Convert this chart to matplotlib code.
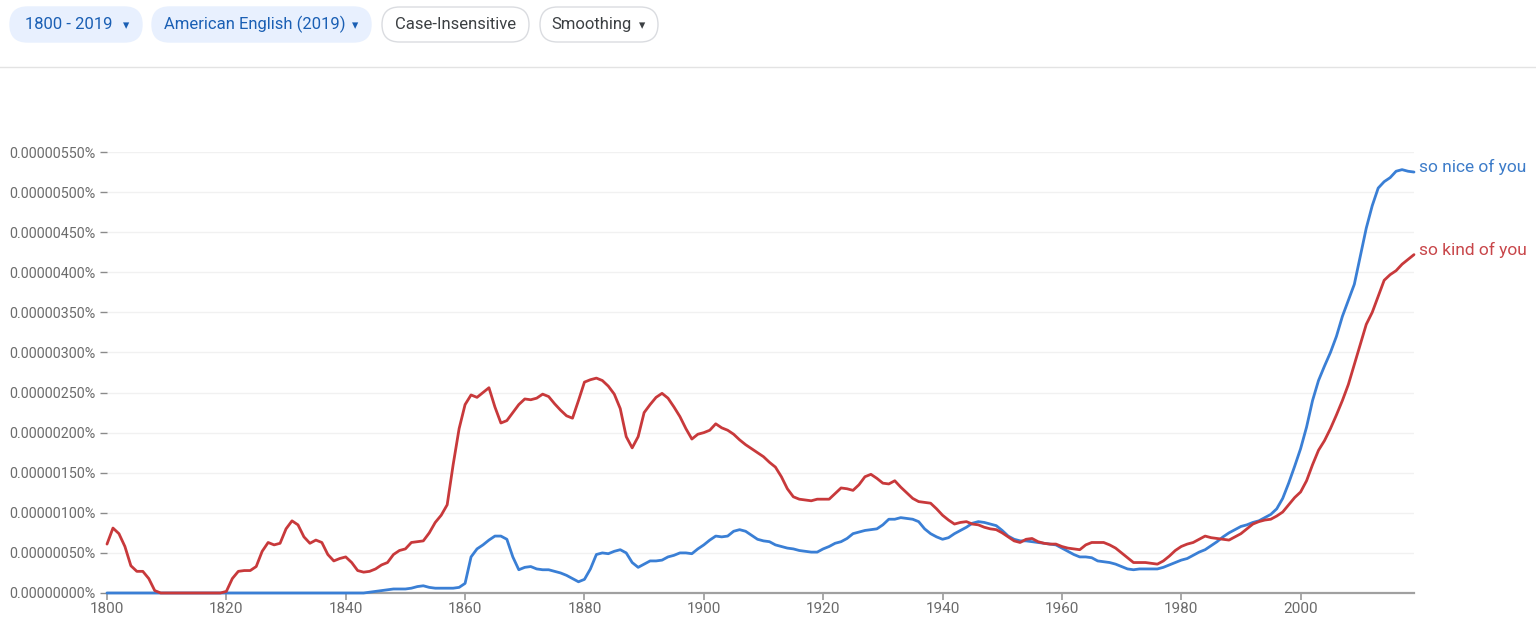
import numpy as np
import matplotlib
matplotlib.use("Agg")
import matplotlib.pyplot as plt
from matplotlib.patches import FancyBboxPatch

plt.rcParams['font.family'] = ['Roboto', 'DejaVu Sans']

# ---------------- data (values in units of 1e-8 %) ----------------
years = list(range(1800, 2020))

so_kind_of_you = [
    61, 81, 74, 58, 34, 27, 27, 18, 3, 0,                 # 1800-1809
    0, 0, 0, 0, 0, 0, 0, 0, 0, 0,                         # 1810-1819
    2, 18, 27, 28, 28, 33, 52, 63, 60, 62,                # 1820-1829
    80, 90, 85, 70, 62, 66, 63, 48, 40, 43,               # 1830-1839
    45, 38, 28, 26, 27, 30, 35, 38, 48, 53,               # 1840-1849
    55, 63, 64, 65, 75, 88, 97, 110, 160, 205,            # 1850-1859
    235, 247, 244, 250, 256, 232, 212, 215, 225, 235,     # 1860-1869
    242, 241, 243, 248, 245, 236, 228, 221, 218, 240,     # 1870-1879
    263, 266, 268, 265, 258, 248, 230, 195, 181, 195,     # 1880-1889
    225, 235, 244, 249, 243, 232, 220, 205, 192, 198,     # 1890-1899
    200, 203, 211, 206, 203, 198, 191, 185, 180, 175,     # 1900-1909
    170, 163, 157, 145, 130, 120, 117, 116, 115, 117,     # 1910-1919
    117, 117, 124, 131, 130, 128, 135, 145, 148, 143,     # 1920-1929
    137, 136, 140, 132, 125, 118, 114, 113, 112, 105,     # 1930-1939
    97, 91, 86, 88, 89, 86, 85, 82, 80, 79,               # 1940-1949
    75, 70, 65, 63, 67, 68, 64, 62, 61, 61,               # 1950-1959
    58, 56, 55, 54, 60, 63, 63, 63, 60, 56,               # 1960-1969
    50, 44, 38, 38, 38, 37, 36, 40, 46, 53,               # 1970-1979
    58, 61, 63, 67, 71, 69, 68, 67, 66, 70,               # 1980-1989
    74, 80, 86, 89, 91, 92, 96, 101, 110, 119,            # 1990-1999
    126, 140, 160, 178, 190, 205, 222, 240, 260, 285,     # 2000-2009
    310, 335, 350, 370, 390, 397, 402, 410, 416, 422,     # 2010-2019
]

so_nice_of_you = [
    0, 0, 0, 0, 0, 0, 0, 0, 0, 0,                         # 1800-1809
    0, 0, 0, 0, 0, 0, 0, 0, 0, 0,                         # 1810-1819
    0, 0, 0, 0, 0, 0, 0, 0, 0, 0,                         # 1820-1829
    0, 0, 0, 0, 0, 0, 0, 0, 0, 0,                         # 1830-1839
    0, 0, 0, 0, 1, 2, 3, 4, 5, 5,                         # 1840-1849
    5, 6, 8, 9, 7, 6, 6, 6, 6, 7,                         # 1850-1859
    12, 45, 55, 60, 66, 71, 71, 67, 45, 29,               # 1860-1869
    32, 33, 30, 29, 29, 27, 25, 22, 18, 14,               # 1870-1879
    17, 30, 48, 50, 49, 52, 54, 50, 38, 32,               # 1880-1889
    36, 40, 40, 41, 45, 47, 50, 50, 49, 55,               # 1890-1899
    60, 66, 71, 70, 71, 77, 79, 77, 72, 67,               # 1900-1909
    65, 64, 60, 58, 56, 55, 53, 52, 51, 51,               # 1910-1919
    55, 58, 62, 64, 68, 74, 76, 78, 79, 80,               # 1920-1929
    85, 92, 92, 94, 93, 92, 89, 80, 74, 70,               # 1930-1939
    67, 69, 74, 78, 82, 87, 89, 88, 86, 84,               # 1940-1949
    78, 71, 67, 65, 65, 64, 63, 62, 61, 60,               # 1950-1959
    56, 52, 48, 45, 45, 44, 40, 39, 38, 36,               # 1960-1969
    33, 30, 29, 30, 30, 30, 30, 32, 35, 38,               # 1970-1979
    41, 43, 47, 51, 54, 59, 64, 70, 75, 79,               # 1980-1989
    83, 85, 88, 90, 94, 98, 105, 118, 137, 158,           # 1990-1999
    180, 207, 240, 265, 283, 300, 320, 345, 365, 385,     # 2000-2009
    420, 455, 483, 505, 513, 518, 526, 528, 526, 525,     # 2010-2019
]

series_names = ["so nice of you", "so kind of you"]
y_ticks = list(range(0, 551, 50))
x_ticks = list(range(1800, 2001, 20))
buttons = ["1800 - 2019", "American English (2019)", "Case-Insensitive", "Smoothing"]

# ---------------- figure ----------------
W, H = 1536, 619
fig = plt.figure(figsize=(W / 100, H / 100), dpi=100)
fig.patch.set_facecolor("white")

# overlay axes in pixel coordinates for header UI
ov = fig.add_axes([0, 0, 1, 1])
ov.set_xlim(0, W)
ov.set_ylim(H, 0)
ov.axis("off")

blue_fill = "#e8f0fe"
blue_text = "#1a5fb4"
gray_text = "#3c4043"
btn_specs = [
    (10, 142, True, True),
    (152, 371, True, True),
    (382, 529, False, False),
    (540, 658, False, True),
]
for (x0, x1, filled, arrow), label in zip(btn_specs, buttons):
    y0, y1 = 7, 42
    hgt = y1 - y0
    patch = FancyBboxPatch((x0, y0), x1 - x0, hgt,
                           boxstyle=f"round,pad=0,rounding_size={hgt/2}",
                           facecolor=blue_fill if filled else "white",
                           edgecolor=blue_fill if filled else "#dadce0",
                           linewidth=1.0, transform=ov.transData, zorder=2)
    ov.add_patch(patch)
    col = blue_text if filled else gray_text
    if arrow:
        tx = (x0 + x1) / 2 - 7
        ov.text(tx, (y0 + y1) / 2, label, ha="center", va="center",
                fontsize=12, color=col, zorder=3)
        ov.text(x1 - 16, (y0 + y1) / 2 + 1, "\u25BE", ha="center", va="center",
                fontsize=9, color=col, family=["DejaVu Sans"], zorder=3)
    else:
        ov.text((x0 + x1) / 2, (y0 + y1) / 2, label, ha="center", va="center",
                fontsize=12, color=col, zorder=3)

ov.plot([0, W], [66.5, 66.5], color="#e3e3e3", linewidth=1.0, zorder=1)

# main chart axes
left_px, right_px, top_px, bottom_px = 107, 1414, 152, 593
ax = fig.add_axes([left_px / W, (H - bottom_px) / H,
                   (right_px - left_px) / W, (bottom_px - top_px) / H])
ax.set_facecolor("none")
ax.set_xlim(1800, 2019)
ax.set_ylim(0, 550)

blue = "#3a7fd5"
red = "#c8393b"
ax.plot(years, so_nice_of_you, color=blue, linewidth=2.0, solid_capstyle="round",
        solid_joinstyle="round", zorder=3, clip_on=False)
ax.plot(years, so_kind_of_you, color=red, linewidth=2.0, solid_capstyle="round",
        solid_joinstyle="round", zorder=4, clip_on=False)

for name, vals, col in [(series_names[0], so_nice_of_you, "#3d7cc9"),
                        (series_names[1], so_kind_of_you, "#c8464a")]:
    ax.annotate(name, xy=(years[-1], vals[-1]), xytext=(5, 5),
                textcoords="offset pixels", ha="left", va="center",
                fontsize=12.5, color=col, annotation_clip=False)

ax.set_yticks(y_ticks)
ax.set_yticklabels([f"{v/1e8:.8f}%" for v in y_ticks])
ax.set_xticks(x_ticks)
ax.set_xticklabels([str(x) for x in x_ticks])
ax.grid(axis="y", color="#f1f1f1", linewidth=1.0, zorder=0)
ax.set_axisbelow(True)
for s in ["top", "right", "left"]:
    ax.spines[s].set_visible(False)
ax.spines["bottom"].set_color("#a0a0a0")
ax.spines["bottom"].set_linewidth(1.6)
ax.spines["bottom"].set_zorder(2)
ax.tick_params(axis="y", length=5, width=1, color="#8a8a8a", pad=3,
               labelsize=10.3, labelcolor="#6b6b6b")
ax.tick_params(axis="x", length=5, width=1.3, color="#a0a0a0", pad=1.5,
               labelsize=11, labelcolor="#6b6b6b")

fig.savefig("out.png", dpi=100, facecolor="white")
